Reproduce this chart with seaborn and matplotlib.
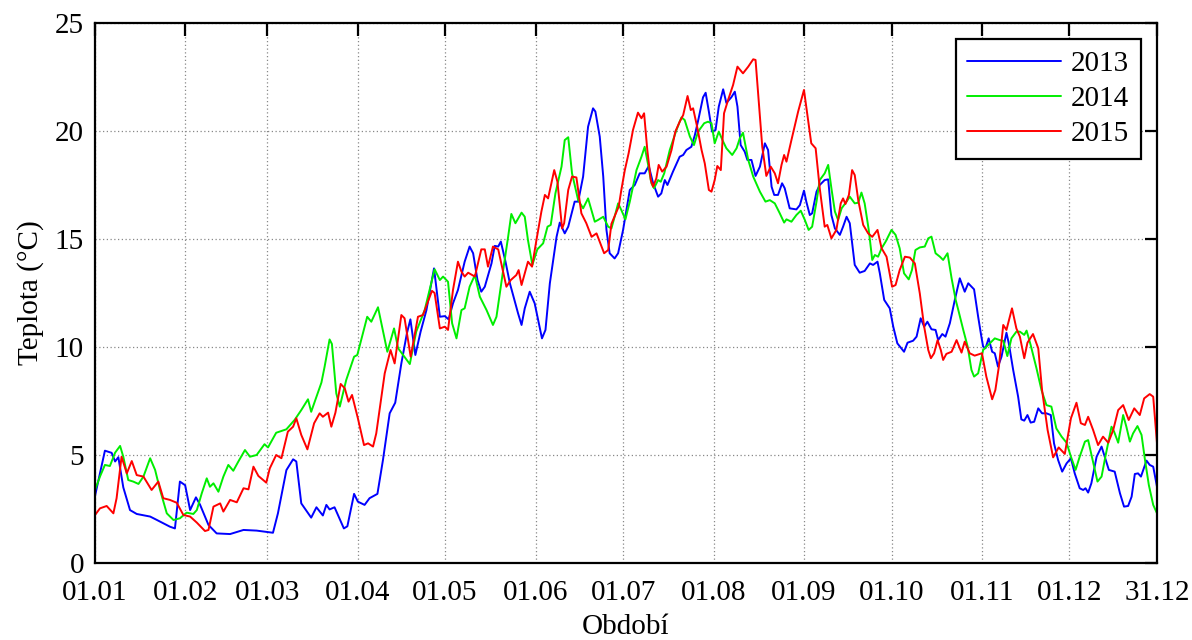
import numpy as np
import pandas as pd
import seaborn as sns
import matplotlib.pyplot as plt

# hodnoty: den v roce a teplota (°C)
den_2013 = [1, 4.4, 6.7, 7.9, 9, 10.7, 13, 15.3, 19.9, 22.1, 26.7, 28.4, 30.1, 31.9, 33.6, 35.6, 37, 39.9, 42.7, 47.3,
            51.9, 56.4, 62, 63.7, 66.6, 68.9, 70, 71.7, 75.1, 76.9, 79.1, 80.3, 81.4, 83.1, 86.3, 87.5, 89.8, 91.1,
            93.4, 95.1, 97.8, 99.7, 102, 103.9, 106, 107.9, 109.1, 110.8, 112.6, 114.6, 117.2, 119.2, 120.9, 122.2,
            123.7, 125.4, 127.7, 129.4, 130.6, 132.1, 133.4, 134.6, 136.9, 138, 139.2, 140.1, 141.7, 143.2, 144.6,
            146, 147.2, 148.3, 150, 151.7, 153.1, 154.2, 155.4, 156.9, 159.2, 160.3, 162, 163.2, 165.4, 166.6, 168.3,
            170, 171.7, 172.5, 174, 175.2, 176.3, 177.4, 179.1, 180.3, 182, 184.3, 186, 187.7, 189.4, 190.8, 192.3,
            194, 195.1, 196.3, 197.2, 199.1, 201.4, 202.6, 203.7, 205.4, 206.6, 207.9, 209.4, 210.3, 211.4, 212.5,
            213.7, 214.8, 216.3, 217.4, 219.1, 220.3, 221.2, 222.3, 223.7, 224.6, 226, 227.4, 228.9, 230.6, 231.7,
            232.9, 233.8, 235.1, 236.5, 237.4, 239.1, 241.4, 242.6, 244, 244.8, 246, 246.8, 248.3, 249.4, 251.1,
            252.3, 253.4, 254.6, 256.3, 257.4, 258.6, 259.7, 261.4, 263.1, 264.8, 266.6, 267.7, 269.2, 270, 271.5,
            273.4, 274.6, 276, 278.3, 279.5, 281.4, 282.6, 284, 285.2, 286.3, 287.7, 289.1, 290, 291.4, 292.5, 294,
            295.7, 297.4, 299.1, 300.3, 302.3, 303.7, 304.8, 305.4, 306.2, 307.3, 308.5, 309.4, 310.5, 311.7, 313.4,
            314.2, 315.7, 317.4, 318.5, 319.5, 320.6, 321.7, 322.9, 324.3, 325.6, 327.1, 328.6, 329.7, 331.1, 332.5,
            334, 335.5, 336.8, 338.5, 339.7, 340.5, 341.4, 342.5, 344.3, 346, 347.1, 348.5, 350.5, 352.3, 353.7,
            355.1, 356.3, 357.4, 358.5, 359.5, 361.4, 362.5, 363.7, 365]
t_2013 = [3.1, 5.2, 5.1, 4.7, 4.9, 3.5, 2.45, 2.27, 2.15, 2.0, 1.68, 1.6, 3.77, 3.6, 2.45, 3.04, 2.7, 1.76, 1.37, 1.34,
          1.53, 1.5, 1.4, 2.3, 4.3, 4.8, 4.7, 2.76, 2.1, 2.58, 2.2, 2.69, 2.48, 2.58, 1.6, 1.7, 3.2, 2.84,
          2.69, 3.0, 3.2, 4.77, 6.93, 7.42, 9.24, 10.63, 11.28, 9.63, 10.71, 11.71, 13.64, 11.4, 11.43, 11.28,
          12.02, 12.64, 13.95, 14.65, 14.34, 13.1, 12.56, 12.79, 13.87, 14.68, 14.65, 14.88, 13.95, 12.95, 12.25,
          11.56, 11.02, 11.79, 12.56, 12.02, 11.1, 10.4, 10.79, 12.95, 15.1, 15.76, 15.26, 15.57, 16.73, 16.73, 17.89,
          20.2, 21.05, 20.9, 19.74, 17.89, 15.42, 14.34, 14.1, 14.34, 15.42, 17.27, 17.5, 18.04, 18.04, 18.38, 17.58,
          16.96, 17.11, 17.73, 17.5, 18.12, 18.81, 18.89, 19.12, 19.27, 19.81, 20.59, 21.56, 21.77, 20.9, 19.97,
          20.05, 21.13, 21.93, 21.3, 21.56, 21.82, 21.13, 19.35, 19.04, 18.66, 18.66, 17.92, 18.35, 19.43, 19.12,
          17.42, 17.04, 17.04, 17.58, 17.35, 16.42, 16.37, 16.57, 17.24, 16.73, 16.11, 16.19, 17.19, 17.5, 17.73,
          17.76, 16.11, 15.49, 15.19, 15.57, 16.03, 15.73, 13.8, 13.44, 13.52, 13.87, 13.8, 13.95, 13.41, 12.18,
          11.79, 10.94, 10.17, 9.78, 10.2, 10.29, 10.48, 11.33, 10.94, 11.17, 10.82, 10.79, 10.32, 10.6, 10.48, 11.1,
          12.18, 13.18, 12.56, 12.95, 12.67, 11.4, 10.48, 10.02, 9.94, 10.4, 9.78, 9.71, 9.09, 9.55, 10.66,
          10.17, 8.94, 7.7, 6.65, 6.59, 6.85, 6.5, 6.54, 7.16, 6.93, 6.93, 6.85, 5.54, 4.77, 4.23,
          4.61, 4.85, 4.15, 3.46, 3.38, 3.46, 3.26, 3.69, 4.92, 5.39, 4.92, 4.31, 4.23, 3.23, 2.61,
          2.64, 3.07, 4.12, 4.15, 4.0, 4.74, 4.54, 4.46, 3.53]

den_2014 = [1, 2.7, 4.4, 6.1, 7.9, 9.6, 10.7, 12.4, 14.1, 15.9, 17.6, 19.9, 21.6, 23.3, 25.6, 27.9, 30.1, 32.4, 34.7,
            35.9, 37.6, 39.3, 40.4, 41.6, 43.3, 45, 46.7, 48.4, 50.1, 52.4, 54.1, 56.4, 59.1, 60.3, 63.1, 66.6, 69.4,
            71.7, 74, 75.1, 78.6, 79.7, 81.4, 82.2, 83.7, 84.9, 87.1, 89.8, 90.9, 94.3, 95.7, 98, 101.2, 103.5, 104.9,
            108.9, 111.1, 114, 117.4, 119.2, 120.3, 122, 123.4, 124.9, 126.6, 127.7, 129.4, 131.2, 132.9, 135.2,
            137.4, 138.6, 140.9, 142.6, 143.7, 145.1, 147.2, 148.3, 149.4, 150.9, 152.6, 154.6, 156.1, 157.2, 158.8,
            160.9, 162, 163.2, 164.5, 166.6, 168.3, 170, 172.3, 173.4, 175.2, 176.9, 178, 179.1, 180.3, 181.4, 182.8,
            184.3, 186.6, 188.3, 189.4, 190.6, 191.7, 192.6, 194, 194.9, 196.1, 198, 200.3, 202, 203.1, 204.9, 206.3,
            207.7, 209.8, 211.1, 212.3, 213.4, 214.8, 216.3, 217.4, 219.4, 220.9, 222, 223.1, 224.9, 226.6, 228.9,
            230.8, 232.3, 234, 235.7, 237.2, 238, 239.7, 241.4, 242.9, 244.3, 245.6, 246.8, 248.3, 249.4, 251.1,
            252.3, 253.4, 254.6, 255.7, 256.9, 258.6, 259.7, 261.4, 262.6, 263.7, 264.8, 266.2, 267.4, 268.3, 269.4,
            270.6, 272, 274, 275.4, 276.8, 278.3, 279.9, 281, 282.2, 283.7, 285.4, 286.6, 287.7, 289.1, 290.6, 291.7,
            293.2, 294.6, 296, 296.9, 298.6, 300.1, 301.4, 302.3, 303.7, 305.4, 307.1, 309.4, 311.1, 312.3, 313.7,
            315.1, 316.8, 318, 319.5, 320.3, 321.7, 323.7, 325.4, 327.1, 328.8, 330.5, 332.3, 334, 335.5, 337.1,
            338.5, 340.3, 341.4, 342.8, 344.6, 346, 347.3, 349.4, 350.3, 351.7, 353.4, 354.5, 355.7, 356.8, 358.3,
            359.7, 360.8, 362.2, 363.7, 365]
t_2014 = [3.38, 4.0, 4.54, 4.49, 5.11, 5.42, 4.92, 3.84, 3.77, 3.66, 4.0, 4.85, 4.31, 3.38, 2.3, 1.99, 2.07, 2.33, 2.27,
          2.45, 3.23, 3.92, 3.53, 3.69, 3.3, 4.0, 4.54, 4.27, 4.69, 5.23, 4.92, 5.0, 5.5, 5.35, 6.03, 6.19, 6.62,
          7.08, 7.58, 7.0, 8.35, 9.09, 10.35, 10.14, 7.85, 7.24, 8.47, 9.55, 9.63, 11.4, 11.17, 11.84, 9.78, 10.86, 9.94,
          9.21, 10.71, 11.71, 13.6, 13.1, 13.26, 13.02, 11.1, 10.4, 11.71, 11.79, 12.79, 13.33, 12.33, 11.71,
          11.02, 11.4, 13.56, 15.1, 16.16, 15.73, 16.22, 16.03, 14.95, 13.8, 14.52, 14.8, 15.57, 15.65, 17.11,
          18.35, 19.58, 19.71, 18.04, 16.8, 16.42, 16.88, 15.8, 15.88, 16.03, 15.57, 15.49, 16.03, 16.65, 16.34, 15.91,
          16.73, 18.19, 18.81, 19.27, 18.43, 17.58, 17.35, 17.73, 17.65, 18.04, 19.12, 20.05, 20.63, 20.51, 19.74, 19.35,
          19.97, 20.36, 20.43, 20.36, 19.43, 19.97, 19.51, 19.2, 18.89, 19.2, 19.66, 19.92, 18.66, 17.89, 17.19,
          16.73, 16.8, 16.65, 16.19, 15.76, 15.91, 15.8, 16.11, 16.31, 15.88, 15.42, 15.57, 16.73, 17.73, 18.04,
          18.43, 17.35, 16.27, 15.88, 16.42, 16.73, 16.96, 16.65, 16.68, 17.15, 16.65, 15.42, 14.03, 14.26, 14.18,
          14.57, 14.88, 15.42, 15.19, 14.57, 13.41, 13.13, 13.56, 14.49, 14.61, 14.65, 15.03, 15.11, 14.34, 14.18, 14.03,
          14.34, 13.18, 12.18, 11.71, 10.79, 10.02, 8.94, 8.63, 8.78, 9.86, 10.09, 10.4, 10.32, 10.29, 9.58,
          10.4, 10.71, 10.71, 10.56, 10.76, 10.09, 9.01, 8.01, 7.31, 7.24, 6.23, 5.85, 5.57, 4.92, 4.31,
          4.92, 5.62, 5.69, 4.85, 3.77, 4.0, 4.92, 6.31, 6.08, 5.57, 6.85, 6.31, 5.62, 6.0, 6.34,
          5.93, 4.85, 3.61, 2.69, 2.3]

den_2015 = [1, 2.7, 5, 7.3, 8.4, 10.1, 11.9, 13.6, 15.3, 17.6, 20.4, 22.7, 24.4, 26.7, 29, 31.3, 33.6, 35.9, 38.7, 39.9,
            41.6, 43.9, 45, 47.3, 49.6, 51.9, 53.6, 55.3, 57, 59.7, 60.9, 63.1, 64.9, 67.1, 68.9, 70, 71.7, 73.8, 76.1,
            78, 79.1, 80.9, 82, 83.4, 85.2, 86.6, 87.9, 89.1, 91.1, 93.2, 94.6, 96.3, 97.4, 100.3, 102.3, 103.7, 106,
            107.1, 109.2, 111.7, 113.4, 116.5, 117.4, 119.2, 120.9, 122, 123.7, 125.4, 126.6, 127.7, 128.9, 131.2,
            133.4, 134.6, 135.7, 137.4, 139.2, 140.5, 142, 143.5, 145.4, 146.2, 147.2, 149.4, 150.8, 152.3, 154,
            155.2, 156.3, 158.4, 159.5, 161.1, 161.8, 163.2, 164.5, 166, 167.7, 169.4, 171.2, 172.9, 174.6, 175.5,
            176.9, 178, 180.5, 181.4, 182.6, 183.9, 185.4, 187.1, 188.3, 189.2, 190.3, 191.5, 192.3, 193.4, 194.2,
            195.4, 196.9, 198.6, 199.9, 201.4, 202.6, 204.1, 205.2, 206, 207.5, 208.9, 210, 211.4, 212.3, 213.4,
            214.3, 215.5, 216.6, 218, 219.7, 221.2, 223.1, 224.9, 226.6, 227.4, 228.3, 229.7, 231.1, 232.6, 234,
            235.1, 236.3, 237.2, 238, 239.7, 242, 244, 245.2, 246.5, 248, 249.4, 251.1, 252, 253.4, 255.1, 256.6,
            257.4, 258.2, 259.4, 260.5, 261.4, 262.6, 264.3, 266, 267.4, 269.2, 270.6, 272.3, 274.2, 275.4, 276.8,
            278.6, 280.3, 282, 283.7, 285.2, 286.6, 287.5, 288.6, 289.8, 290.9, 291.7, 292.8, 294.6, 296.3, 298,
            299.1, 300.8, 302.5, 305, 306.5, 308.5, 309.6, 310.8, 312.3, 313.4, 315.3, 316.8, 318, 319.5, 320.6,
            322.5, 324.3, 325.6, 327.5, 329.4, 331.3, 333.4, 335.5, 337.4, 338.9, 340.3, 341.4, 343.1, 344.8, 346.5,
            348.3, 350, 351.7, 353.4, 355.3, 357.2, 359.1, 360.6, 362.5, 363.7, 365]
t_2015 = [2.22, 2.53, 2.64, 2.3, 3.0, 4.92, 4.15, 4.72, 4.07, 4.0, 3.38, 3.77, 3.0, 2.92, 2.79, 2.22, 2.15, 1.87, 1.48, 1.53,
          2.61, 2.76, 2.38, 2.92, 2.81, 3.46, 3.41, 4.46, 4.03, 3.72, 4.38, 5.0, 4.85, 6.08, 6.31, 6.7, 5.93, 5.26, 6.47,
          6.93, 6.77, 6.96, 6.31, 6.96, 8.29, 8.09, 7.47, 7.78, 6.7, 5.46, 5.54, 5.39, 6.0, 8.78, 9.86, 9.24, 11.48,
          11.33, 9.55, 11.4, 11.48, 12.6, 12.5, 10.86, 10.94, 10.79, 12.64, 13.95, 13.49, 13.26, 13.44, 13.26,
          14.52, 14.52, 13.72, 14.65, 14.52, 13.72, 12.79, 13.1, 13.33, 13.56, 12.87, 13.95, 13.72, 14.95, 16.27,
          17.04, 16.88, 18.19, 17.65, 15.49, 15.73, 17.27, 17.89, 17.85, 16.19, 15.73, 15.1, 15.26, 14.65, 14.34,
          14.49, 15.7, 16.5, 17.27, 18.19, 18.97, 20.05, 20.85, 20.59, 20.82, 19.12, 17.73, 17.42, 17.81, 18.43,
          18.12, 18.35, 19.12, 19.97, 20.43, 20.74, 21.62, 20.97, 21.05, 20.12, 19.12, 18.5, 17.27, 17.19, 17.73,
          18.38, 18.19, 20.82, 21.44, 22.13, 22.98, 22.67, 22.98, 23.32, 23.29, 21.74, 19.27, 17.92, 18.35, 18.04,
          17.58, 18.43, 18.89, 18.58, 19.58, 20.9, 21.9, 20.7, 19.43, 19.2, 17.35, 15.57, 15.65, 15.03, 15.42, 16.65,
          16.88, 16.62, 17.04, 18.19, 17.96, 16.8, 15.65, 15.26, 15.1, 15.42, 14.57, 14.18, 12.79, 12.87, 13.56,
          14.18, 14.14, 13.87, 12.48, 10.94, 9.86, 9.48, 9.71, 10.32, 9.86, 9.4, 9.68, 9.78, 10.32, 9.74,
          10.25, 9.71, 9.6, 9.71, 8.63, 7.58, 8.01, 9.09, 11.02, 10.79, 11.79, 10.86, 10.48, 9.48, 10.2,
          10.6, 9.94, 8.01, 6.16, 4.89, 5.35, 5.05, 6.7, 7.42, 6.47, 6.39, 6.77, 6.16, 5.46, 5.85,
          5.57, 6.16, 7.08, 7.31, 6.62, 7.16, 6.85, 7.62, 7.82, 7.7, 5.54]

roky = ['2013', '2014', '2015']
barvy = ['#0000ff', '#00ee00', '#ff0000']

# popisky osy x (den v roce)
tick_dny = [1, 32, 60, 91, 121, 152, 182, 213, 244, 274, 305, 335, 365]
tick_popisky = ['01.01', '01.02', '01.03', '01.04', '01.05', '01.06', '01.07',
                '01.08', '01.09', '01.10', '01.11', '01.12', '31.12']

df = pd.concat([
    pd.DataFrame({'den': den_2013, 'teplota': t_2013, 'rok': '2013'}),
    pd.DataFrame({'den': den_2014, 'teplota': t_2014, 'rok': '2014'}),
    pd.DataFrame({'den': den_2015, 'teplota': t_2015, 'rok': '2015'}),
])

sns.set_theme(style='white')
plt.rcParams['font.family'] = ['Liberation Serif', 'DejaVu Serif']
plt.rcParams['text.color'] = 'black'
plt.rcParams['axes.labelcolor'] = 'black'
plt.rcParams['xtick.color'] = 'black'
plt.rcParams['ytick.color'] = 'black'

fig = plt.figure(figsize=(11.92, 6.4), dpi=100)
ax = fig.add_axes([95 / 1192, 1 - 563 / 640, 1062 / 1192, 540 / 640])

for rok, barva in zip(roky, barvy):
    sns.lineplot(data=df[df['rok'] == rok], x='den', y='teplota', ax=ax, color=barva,
                 linewidth=1.4, label=rok, estimator=None, sort=False)

ax.set_xlim(1, 365)
ax.set_ylim(0, 25)
ax.set_xticks(tick_dny)
ax.set_xticklabels(tick_popisky)
ax.set_yticks([0, 5, 10, 15, 20, 25])

ax.grid(True, color='#888888', linestyle=(0, (1, 2)), linewidth=0.9)
for s in ax.spines.values():
    s.set_color('black')
    s.set_linewidth(1.6)
ax.tick_params(direction='in', length=9, width=1.6, labelsize=21, colors='black',
               top=True, right=True)
ax.tick_params(axis='x', pad=12)
ax.tick_params(axis='y', pad=8)

ax.set_xlabel('Období', fontsize=21, labelpad=6)
ax.set_ylabel('Teplota (°C)', fontsize=21, labelpad=8)

leg = ax.legend(loc='upper right', fontsize=21, frameon=True, fancybox=False,
                handlelength=3.2, handletextpad=0.35, labelspacing=0.3,
                borderaxespad=0.55, borderpad=0.4)
leg.get_frame().set_edgecolor('black')
leg.get_frame().set_linewidth(1.6)
leg.get_frame().set_alpha(1)

fig.savefig('out.png', dpi=100)
